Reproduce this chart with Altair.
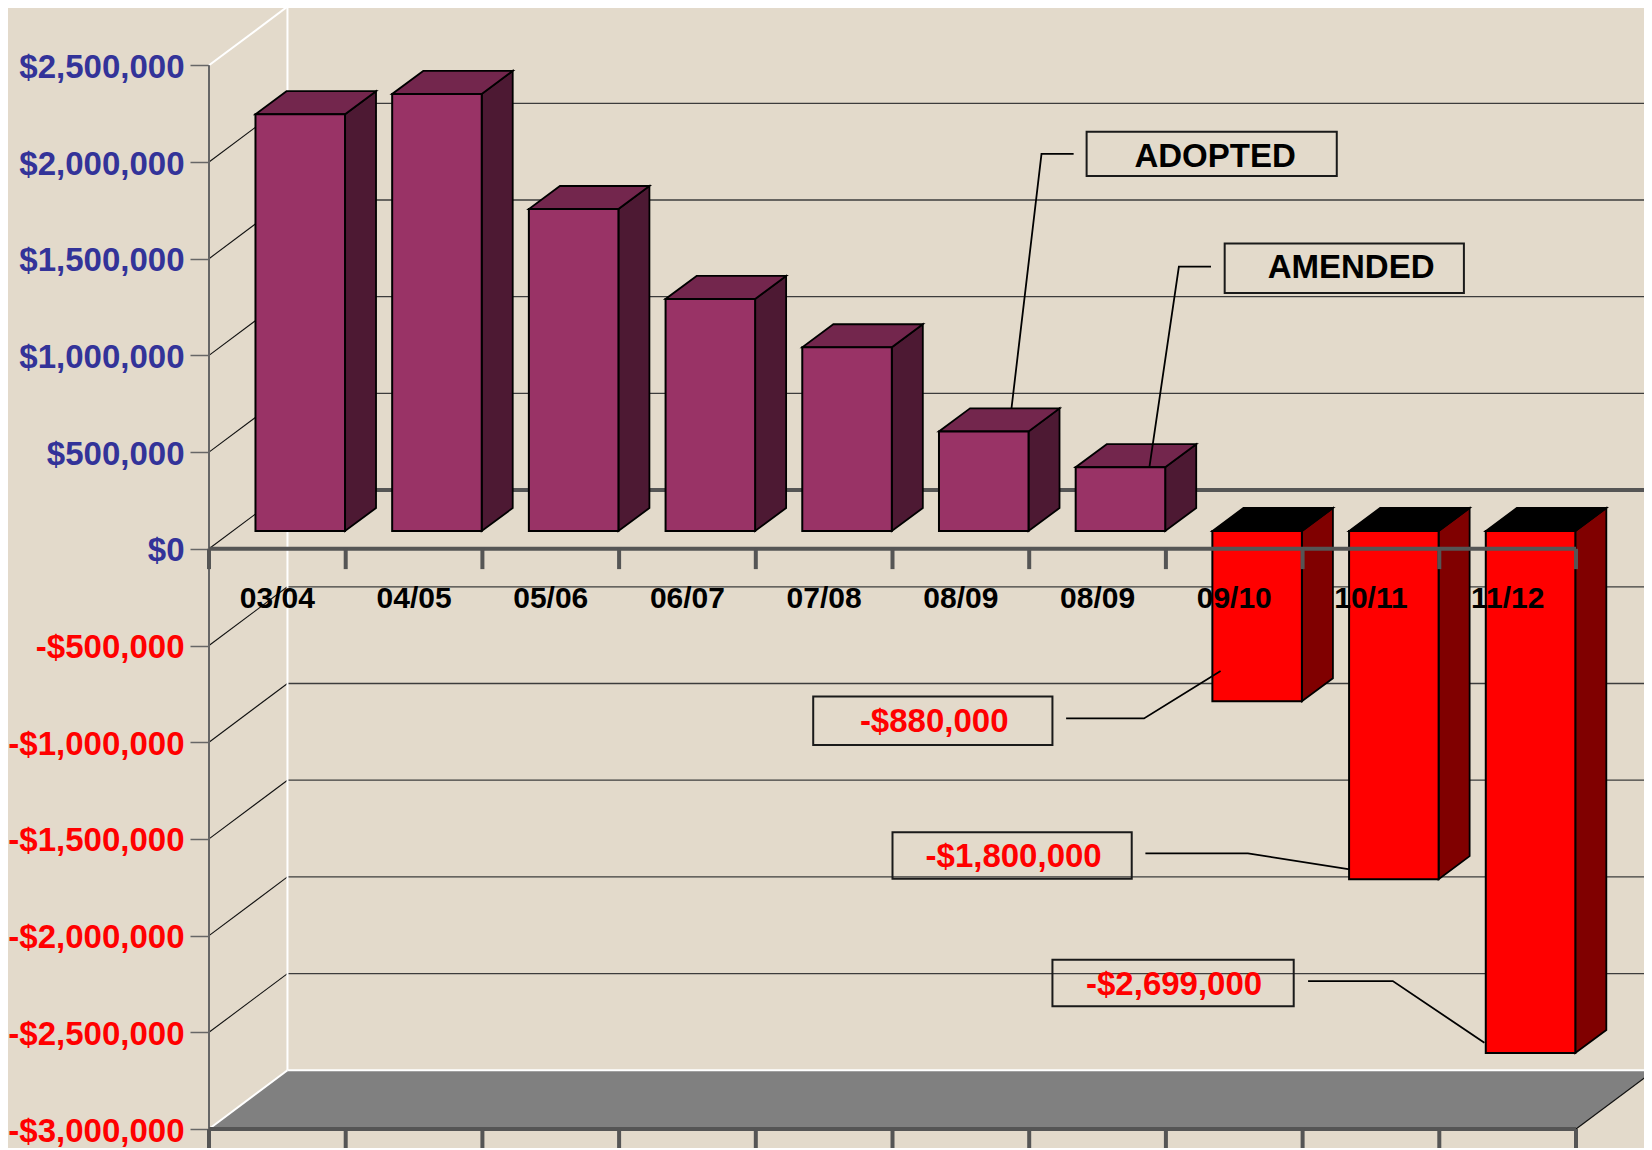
import altair as alt
import pandas as pd

# ---- chart values ----
categories = ["03/04", "04/05", "05/06", "06/07", "07/08", "08/09", "08/09", "09/10", "10/11", "11/12"]
values = [2155000, 2260000, 1665000, 1200000, 950000, 515000, 330000, -880000, -1800000, -2699000]
axis_ticks = [2500000, 2000000, 1500000, 1000000, 500000, 0, -500000, -1000000, -1500000, -2000000, -2500000, -3000000]

# 3-D projection, in scale units (categories / dollars)
WALL_DX = 0.574
WALL_DY = 303500
BAR_LEFT = 0.34
BAR_W = 0.655
BAR_BASE = 92000
BAR_DX = 0.2268
BAR_DY = 119000
N = len(categories)
Y_TOP, Y_MAX, Y_MIN = 2500000, 2796277, -3098190

# callouts: text, text x, text y, box x, x2, y, y2, colour
callout_text = ["ADOPTED", "AMENDED", "-$880,000", "-$1,800,000", "-$2,699,000"]
callout_x = [7.36, 8.355, 5.305, 5.886, 7.06]
callout_y = [2025000, 1453000, -898000, -1596000, -2254000]
callout_color = ["#000000", "#000000", "#ff0000", "#ff0000", "#ff0000"]
box_x = [6.42, 7.43, 4.42, 5.0, 6.17]
box_x2 = [8.25, 9.18, 6.17, 6.75, 7.935]
box_y = [2156700, 1579000, -763200, -1466000, -2125000]
box_y2 = [1927600, 1323000, -1014000, -1706000, -2365000]
leader_x = [[5.87, 6.09, 6.325], [6.88, 7.095, 7.33], [6.27, 6.84, 7.40], [6.85, 7.60, 8.345], [8.04, 8.66, 9.33]]
leader_y = [[723900, 2042000, 2042000], [424500, 1459000, 1459000], [-877000, -877000, -632000],
            [-1575000, -1575000, -1657000], [-2235000, -2235000, -2554000]]

BG = "#e3dacb"
FONT = "Liberation Sans"
PLOT_W, PLOT_H = 1435, 1140

xs = alt.Scale(domain=[0, PLOT_W / 136.7], range=[0, PLOT_W], nice=False, zero=False)
ys = alt.Scale(domain=[Y_MIN, Y_MAX], nice=False, zero=False)
Y_AXIS = alt.Axis(
    values=axis_ticks, title=None, grid=False, domain=False,
    tickSize=19, tickColor="#666666", tickWidth=1.5,
    labelFont=FONT, labelFontSize=33, labelFontWeight="bold", labelPadding=6, labelOffset=2,
    labelOverlap=False, labelBound=False, labelFlush=False,
    format="$,.0f", labelExpr="replace(datum.label, '\u2212', '-')",
    labelColor={"expr": "datum.value < 0 ? '#ff0000' : '#333399'"},
)
X = alt.X("x:Q", scale=xs, axis=None)
X2 = alt.X2("x2:Q")
Y = alt.Y("y:Q", scale=ys, axis=Y_AXIS)
Y2 = alt.Y2("y2:Q")


def segs(rows, color, width):
    df = pd.DataFrame(rows, columns=["x", "x2", "y", "y2"])
    return alt.Chart(df).mark_rule(color=color, strokeWidth=width, clip=False).encode(x=X, x2=X2, y=Y, y2=Y2)


FLOOR = axis_ticks[-1]
inner = [t for t in axis_ticks if t not in (Y_TOP, FLOOR, 0)]

# floor
floor_df = pd.DataFrame({"y": [FLOOR, FLOOR + WALL_DY], "x": [0, WALL_DX], "x2": [N, N + WALL_DX]})
floor = alt.Chart(floor_df).mark_area(orient="horizontal", color="#808080").encode(y=Y, x=X, x2=X2)

back_grid = segs([[WALL_DX, N + WALL_DX, t + WALL_DY, t + WALL_DY] for t in inner], "#3c3c3c", 1.3)
side_grid = segs([[0, WALL_DX, t, t + WALL_DY] for t in inner + [0]], "#111111", 1.1)
back_zero = segs([[WALL_DX, N + WALL_DX, WALL_DY, WALL_DY]], "#555555", 4)
white = segs([
    [0, WALL_DX, Y_TOP, Y_TOP + WALL_DY],
    [WALL_DX, N + WALL_DX, Y_TOP + WALL_DY, Y_TOP + WALL_DY],
    [WALL_DX, WALL_DX, FLOOR + WALL_DY, Y_TOP + WALL_DY],
    [0, WALL_DX, FLOOR, FLOOR + WALL_DY],
    [WALL_DX, N + WALL_DX, FLOOR + WALL_DY, FLOOR + WALL_DY],
], "#ffffff", 2)
floor_right = segs([[N, N + WALL_DX, FLOOR, FLOOR + WALL_DY]], "#111111", 1.2)
y_line = segs([[0, 0, FLOOR, Y_TOP]], "#666666", 2)

# bars
front, side, top = [], [], []
for i, v in enumerate(values):
    l, r = i + BAR_LEFT, i + BAR_LEFT + BAR_W
    hi = BAR_BASE + max(v, 0)
    lo = BAR_BASE + min(v, 0)
    kind = "pos" if v >= 0 else "neg"
    front.append({"bar": i, "kind": kind, "x": l, "x2": r, "y": hi, "y2": lo})
    side.append({"bar": i, "kind": kind, "x": r, "y": hi, "y2": lo})
    side.append({"bar": i, "kind": kind, "x": r + BAR_DX, "y": hi + BAR_DY, "y2": lo + BAR_DY})
    top.append({"bar": i, "kind": kind, "y": hi, "x": l, "x2": r})
    top.append({"bar": i, "kind": kind, "y": hi + BAR_DY, "x": l + BAR_DX, "x2": r + BAR_DX})

side_layer = alt.Chart(pd.DataFrame(side)).mark_area(stroke="#000000", strokeWidth=1.8).encode(
    x=X, y=Y, y2=Y2, detail="bar:N", fill=alt.Fill("kind:N", scale=alt.Scale(domain=["pos", "neg"], range=["#4d1933", "#800000"]), legend=None))
top_layer = alt.Chart(pd.DataFrame(top)).mark_area(orient="horizontal", stroke="#000000", strokeWidth=1.8).encode(
    y=Y, x=X, x2=X2, detail="bar:N", fill=alt.Fill("kind:N", scale=alt.Scale(domain=["pos", "neg"], range=["#73264d", "#000000"]), legend=None))
front_layer = alt.Chart(pd.DataFrame(front)).mark_rect(stroke="#000000", strokeWidth=2).encode(
    x=X, x2=X2, y=Y, y2=Y2, fill=alt.Fill("kind:N", scale=alt.Scale(domain=["pos", "neg"], range=["#993366", "#ff0000"]), legend=None))

# front axis lines and ticks
zero_line = segs([[0, N, 0, 0], [0, N, FLOOR, FLOOR]], "#555555", 4)
tick_rows = []
for i in range(N + 1):
    tick_rows.append([i, i, 0, -105000])
    tick_rows.append([i, i, FLOOR, Y_MIN])
ticks = segs(tick_rows, "#555555", 4)

# category labels
cat_df = pd.DataFrame({"x": [i + 0.50 for i in range(N)], "y": [-257000] * N, "t": categories})
cat_labels = alt.Chart(cat_df).mark_text(font=FONT, fontWeight="bold", fontSize=30, color="#000000", baseline="middle", align="center").encode(x=X, y=Y, text="t:N")

# callouts
box_df = pd.DataFrame({"x": box_x, "x2": box_x2, "y": box_y, "y2": box_y2})
boxes = alt.Chart(box_df).mark_rect(fillOpacity=0, stroke="#1a1a1a", strokeWidth=2).encode(x=X, x2=X2, y=Y, y2=Y2)
lead_rows = []
for k, (lx, ly) in enumerate(zip(leader_x, leader_y)):
    for o, (a, b) in enumerate(zip(lx, ly)):
        lead_rows.append({"k": k, "o": o, "x": a, "y": b})
leaders = alt.Chart(pd.DataFrame(lead_rows)).mark_line(color="#000000", strokeWidth=1.8).encode(
    x=X, y=Y, detail="k:N", order="o:Q")
call_df = pd.DataFrame({"x": callout_x, "y": callout_y, "t": callout_text, "c": callout_color})
call_text = alt.Chart(call_df).mark_text(font=FONT, fontWeight="bold", fontSize=33, baseline="middle", align="center").encode(
    x=X, y=Y, text="t:N", color=alt.Color("c:N", scale=None))

chart = alt.layer(
    floor, back_grid, side_grid, back_zero, white, floor_right, y_line,
    side_layer, top_layer, front_layer, zero_line, ticks, boxes, leaders, call_text, cat_labels,
).properties(
    width=PLOT_W, height=PLOT_H,
    autosize=alt.AutoSizeParams(type="none"),
    padding={"left": 201, "top": 0, "right": 0, "bottom": 0},
    background=BG,
).resolve_scale(fill="independent").configure_view(stroke=None)

chart.save("out.html", embed_options={"renderer": "svg", "actions": False})
